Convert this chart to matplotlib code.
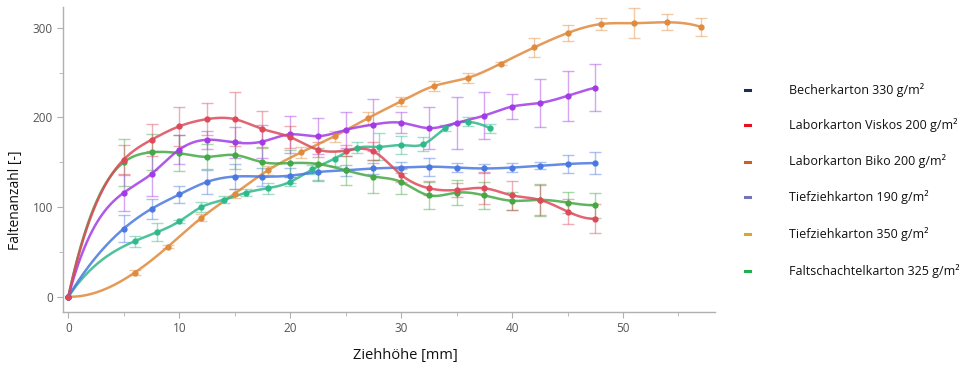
import numpy as np
import matplotlib
matplotlib.use("Agg")
import matplotlib.pyplot as plt
from matplotlib.ticker import MultipleLocator
from matplotlib.lines import Line2D

# ---------------- data ----------------
x_std = [0, 5, 7.5, 10, 12.5, 15, 17.5, 20, 22.5, 25, 27.5, 30, 32.5, 35, 37.5, 40, 42.5, 45, 47.5]

blue_y = [0, 76, 98, 114, 128, 134, 134, 135, 139, 141, 143, 144, 145, 144, 143, 144, 146, 148, 149]
blue_e = [0, 15, 11, 9, 13, 14, 10, 8, 10, 6, 6, 6, 10, 5, 5, 5, 4, 10, 12]

red_y = [0, 153, 175, 190, 198, 198, 187, 178, 164, 163, 162, 136, 121, 119, 121, 113, 108, 95, 87]
red_e = [0, 16, 18, 22, 18, 30, 20, 12, 8, 6, 10, 8, 8, 8, 18, 16, 17, 14, 16]

purple_y = [0, 116, 137, 164, 175, 172, 173, 181, 179, 186, 192, 194, 188, 194, 202, 212, 216, 224, 233]
purple_e = [0, 20, 25, 16, 10, 17, 18, 21, 20, 20, 29, 12, 23, 29, 26, 14, 27, 28, 26]

green_y = [0, 150, 161, 160, 156, 158, 150, 149, 148, 141, 134, 128, 113, 116, 113, 107, 108, 105, 102]
green_e = [0, 26, 20, 20, 14, 16, 16, 15, 18, 16, 18, 14, 15, 14, 15, 10, 18, 12, 14]

teal_x = [0, 6, 8, 10, 12, 14, 16, 18, 20, 22, 24, 26, 28, 30, 32, 34, 36, 38]
teal_y = [0, 62, 72, 84, 100, 108, 116, 121, 128, 142, 154, 166, 167, 169, 170, 188, 195, 188]
teal_e = [0, 6, 10, 2, 6, 4, 4, 6, 5, 5, 8, 6, 15, 10, 8, 3, 5, 5]

orange_x = [0, 6, 9, 12, 15, 18, 21, 24, 27, 30, 33, 36, 39, 42, 45, 48, 51, 54, 57]
orange_y = [0, 27, 56, 88, 115, 141, 161, 179, 199, 218, 235, 244, 260, 278, 294, 304, 305, 306, 301]
orange_e = [0, 3, 2, 4, 5, 5, 6, 6, 7, 5, 6, 6, 2, 11, 9, 7, 17, 9, 10]

legend_labels = ["Becherkarton 330 g/m²", "Laborkarton Viskos 200 g/m²",
                 "Laborkarton Biko 200 g/m²", "Tiefziehkarton 190 g/m²",
                 "Tiefziehkarton 350 g/m²", "Faltschachtelkarton 325 g/m²"]
legend_colors = ["#1f2d50", "#e8101c", "#c8602a", "#7474b8", "#d8a82a", "#22b04e"]

x_label = "Ziehhöhe [mm]"
y_label = "Faltenanzahl [-]"


def spline_curve(x, y, n=400):
    """Not-a-knot cubic spline through the given points (for drawing the line)."""
    x = np.asarray(x, float)
    y = np.asarray(y, float)
    m = len(x)
    h = np.diff(x)
    A = np.zeros((m, m))
    r = np.zeros(m)
    A[0, 0] = h[1]
    A[0, 1] = -(h[0] + h[1])
    A[0, 2] = h[0]
    A[-1, -3] = h[-1]
    A[-1, -2] = -(h[-2] + h[-1])
    A[-1, -1] = h[-2]
    for i in range(1, m - 1):
        A[i, i - 1] = h[i - 1]
        A[i, i] = 2 * (h[i - 1] + h[i])
        A[i, i + 1] = h[i]
        r[i] = 3 * ((y[i + 1] - y[i]) / h[i] - (y[i] - y[i - 1]) / h[i - 1])
    c = np.linalg.solve(A, r)
    b = (y[1:] - y[:-1]) / h - h * (2 * c[:-1] + c[1:]) / 3
    d = (c[1:] - c[:-1]) / (3 * h)
    xs = np.linspace(x[0], x[-1], n)
    idx = np.clip(np.searchsorted(x, xs) - 1, 0, m - 2)
    dx = xs - x[idx]
    ys = y[idx] + b[idx] * dx + c[idx] * dx ** 2 + d[idx] * dx ** 3
    return xs, ys


plt.rcParams['font.family'] = ['Open Sans', 'DejaVu Sans']

fig = plt.figure(figsize=(9.71, 3.70), dpi=100)
ax = fig.add_axes([0.0652, 0.1568, 0.6712, 0.8242])

series = [
    (orange_x, orange_y, orange_e, "#e08a3c"),
    (teal_x, teal_y, teal_e, "#2fb88a"),
    (x_std, blue_y, blue_e, "#4a78e0"),
    (x_std, green_y, green_e, "#44a844"),
    (x_std, purple_y, purple_e, "#a23be6"),
    (x_std, red_y, red_e, "#dd4a5a"),
]

for xs, ys, es, col in series:
    ax.errorbar(xs[1:], ys[1:], yerr=es[1:], fmt='none', ecolor=col, alpha=0.45,
                elinewidth=1.0, capsize=4, capthick=1.0, zorder=2)
    sx, sy = spline_curve(xs, ys)
    ax.plot(sx, sy, color=col, lw=1.8, alpha=0.85, zorder=3)
    ax.plot(xs, ys, 'o', color=col, ms=3.5, zorder=4)

ax.set_xlim(-0.45, 58.3)
ax.set_ylim(-17, 323)
ax.xaxis.set_major_locator(MultipleLocator(10))
ax.xaxis.set_minor_locator(MultipleLocator(5))
ax.yaxis.set_major_locator(MultipleLocator(100))
ax.yaxis.set_minor_locator(MultipleLocator(50))
for s in ['top', 'right']:
    ax.spines[s].set_visible(False)
for s in ['left', 'bottom']:
    ax.spines[s].set_color('#b0b0b0')
    ax.spines[s].set_linewidth(1.0)
ax.tick_params(which='both', colors='#b0b0b0', labelcolor='#555555', labelsize=8.5, direction='out')
ax.tick_params(which='major', length=4)
ax.tick_params(which='minor', length=3)

fig.text(0.417, 0.04, x_label, ha='center', va='center', fontsize=10.5, color='#111111')
fig.text(0.016, 0.46, y_label, ha='center', va='center', rotation=90, fontsize=10, color='#111111')

legend_y = [90, 125, 161.5, 197, 234, 270.5]
for lab, col, py in zip(legend_labels, legend_colors, legend_y):
    yf = 1 - py / 370
    fig.add_artist(Line2D([744.5 / 971, 749.5 / 971], [yf, yf], color=col, lw=2.2,
                          transform=fig.transFigure))
    fig.text(789 / 971, yf, lab, ha='left', va='center', fontsize=9, color='#111111')

fig.savefig("out.png", dpi=100)
